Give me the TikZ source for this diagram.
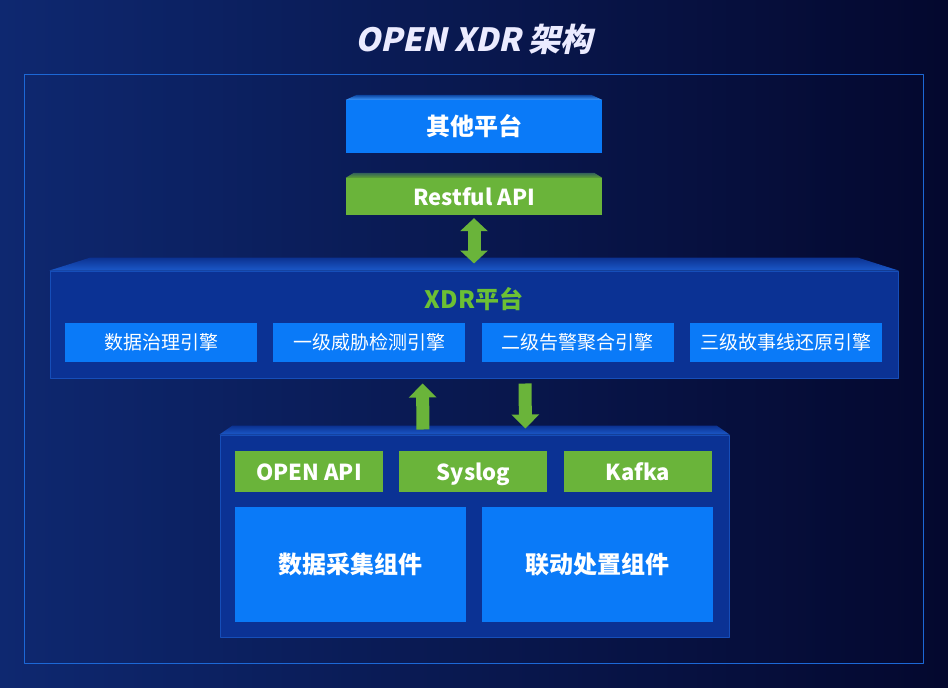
\documentclass[tikz,border=0pt]{standalone}
\usepackage{fontspec}
\setmainfont{Noto Sans CJK SC}
\newfontfamily\titlefont{Noto Sans CJK SC}[FakeSlant=0.22]
\usetikzlibrary{positioning,arrows.meta}
\definecolor{bgl}{RGB}{14,40,112}
\definecolor{bgr}{RGB}{4,8,46}
\definecolor{frame}{RGB}{28,104,214}
\definecolor{panel}{RGB}{11,50,148}
\definecolor{panelb}{RGB}{30,96,210}
\definecolor{boxblue}{RGB}{10,122,248}
\definecolor{boxgreen}{RGB}{106,180,58}
\definecolor{txtgreen}{RGB}{108,192,52}
\newcommand{\bevel}[5]{\shade[top color=#4, bottom color=#5]
  (#1.north west) -- ([shift={(#3,-#2)}]#1.north west)
  -- ([shift={(-#3,-#2)}]#1.north east) -- (#1.north east) -- cycle;}
\begin{document}
\begin{tikzpicture}[x=1pt, y=-1pt, line join=round,
  box/.style={rectangle, inner sep=0pt, text=white, font=\bfseries\fontsize{24}{24}\selectfont},
  bluebox/.style={box, fill=boxblue},
  greenbox/.style={box, fill=boxgreen},
  engine/.style={bluebox, minimum width=192pt, minimum height=39pt, font=\fontsize{19}{19}\selectfont},
  port/.style={greenbox, minimum width=148pt, minimum height=41pt, text height=21pt, text depth=4pt, font=\bfseries\fontsize{22}{22}\selectfont},
  comp/.style={bluebox, minimum width=231pt, minimum height=115pt},
  panelbox/.style={rectangle, inner sep=0pt, fill=panel, draw=panelb!60!panel, line width=1pt},
  fat/.style={draw=boxgreen, line width=13pt, -{Triangle[length=14pt,width=27pt]}},
  dbl/.style={draw=boxgreen, line width=13pt, {Triangle[length=13pt,width=27pt]}-{Triangle[length=13pt,width=27pt]}}]
\useasboundingbox (0,0) rectangle (948,688);
\shade[left color=bgl, right color=bgr] (0,0) rectangle (948,688);
\draw[frame, line width=1pt] (24,74) rectangle (923,663);
\node[text=blue!8!white, font=\titlefont\bfseries\fontsize{32}{32}\selectfont] (title) at (474,39) {OPEN XDR 架构};
\node[bluebox, minimum width=256pt, minimum height=53pt] (other) at (474,126.5) {其他平台};
\bevel{other}{5}{11}{boxblue!35!bgl}{boxblue!80!white}
\node[greenbox, minimum width=256pt, minimum height=37pt, font=\bfseries\fontsize{22}{22}\selectfont] (api) at (474,196.5) {Restful API};
\bevel{api}{5}{8}{boxgreen!40!bgl}{boxgreen!90!black}
\node[panelbox, minimum width=848pt, minimum height=107pt] (xdr) at (474,324.5) {};
\bevel{xdr}{13}{41}{panel!90!bgl}{panelb!85!panel}
\node[text=txtgreen, font=\bfseries\fontsize{24}{24}\selectfont] (xdrlabel) at (474,299) {XDR平台};
\node[engine] (e1) at (161,342.5) {数据治理引擎};
\node[engine, right=16pt of e1] (e2) {一级威胁检测引擎};
\node[engine, right=16pt of e2] (e3) {二级告警聚合引擎};
\node[engine, right=16pt of e3] (e4) {三级故事线还原引擎};
\node[panelbox, minimum width=509pt, minimum height=202pt] (bot) at (474.5,536) {};
\bevel{bot}{9}{13}{panel!90!bgl}{panelb!85!panel}
\node[port] (g1) at (309,471.5) {OPEN API};
\node[port, right=16pt of g1] (g2) {Syslog};
\node[port, right=16pt of g2] (g3) {Kafka};
\node[comp] (c1) at (350.5,564.5) {数据采集组件};
\node[comp, right=16pt of c1] (c2) {联动处置组件};
\draw[dbl, shorten <=3pt, shorten >=7pt] (api.south) -- (xdr.north);
\draw[fat, shorten <=5pt, shorten >=5pt] ([xshift=-51.5pt]bot.north) -- ([xshift=-51.5pt]xdr.south);
\draw[fat, shorten <=5pt, shorten >=6pt] ([xshift=51pt]xdr.south) -- ([xshift=51pt]bot.north);
\end{tikzpicture}
\end{document}
